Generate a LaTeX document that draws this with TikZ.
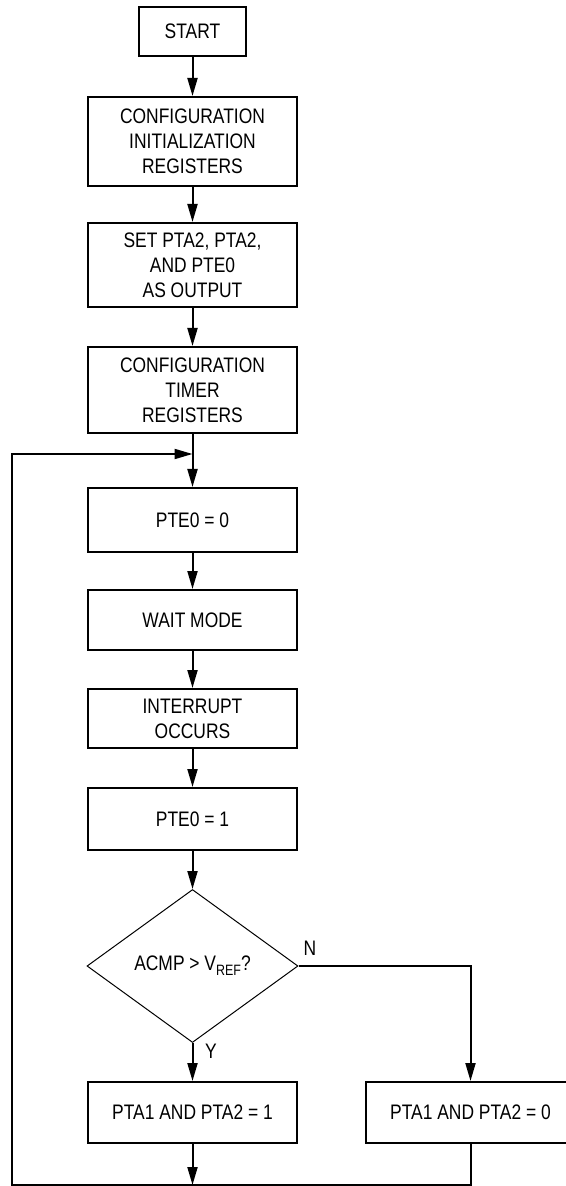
\documentclass[tikz,border=0pt]{standalone}
\usepackage{fontspec}
\setmainfont{Liberation Sans}[FakeStretch=0.83]
\usetikzlibrary{arrows.meta,shapes.geometric}
\begin{document}
\begin{tikzpicture}[x=0.5pt,y=-0.5pt,
  txt/.style={font=\fontsize{10.5}{12.5}\selectfont},
  box/.style={draw,line width=1pt,inner sep=0pt,minimum width=104.5pt,align=center,txt},
  conn/.style={line width=1pt,-{Triangle[length=9pt,width=5pt]}},
  plain/.style={line width=1pt}]
\clip (0,0) rectangle (566,1186);
\node[box,minimum width=53.5pt,minimum height=24.5pt] (start) at (192.5,31.5) {START};
\node[box,minimum height=44.5pt] (init) at (192.5,141.5) {CONFIGURATION\\INITIALIZATION\\REGISTERS};
\node[box,minimum height=42pt] (set) at (192.5,265) {SET PTA2, PTA2,\\AND PTE0\\AS OUTPUT};
\node[box,minimum height=43pt] (timer) at (192.5,390) {CONFIGURATION\\TIMER\\REGISTERS};
\node[box,minimum height=32pt] (pteA) at (192.5,520) {PTE0 = 0};
\node[box,minimum height=30pt] (wait) at (192.5,620) {WAIT MODE};
\node[box,minimum height=29.5pt] (intr) at (192.5,718.5) {INTERRUPT\\OCCURS};
\node[box,minimum height=31pt] (pteB) at (192.5,819) {PTE0 = 1};
\node[draw,diamond,line width=0.5pt,inner sep=0pt,aspect=1.38,minimum width=105.5pt,minimum height=76.5pt,txt] (dec) at (192.5,966)
  {ACMP > V\raisebox{-0.45ex}{\fontsize{7.5}{8}\selectfont REF}?};
\node[box,minimum height=30.5pt] (pta1) at (192.5,1112.5) {PTA1 AND PTA2 = 1};
\node[box,minimum height=30.5pt] (pta0) at (470.5,1112.5) {PTA1 AND PTA2 = 0};
\node[txt] (nlab) at (310,948) {N};
\node[txt] (ylab) at (211,1051) {Y};
\coordinate (join) at (192.5,454);
\coordinate (bl) at (12,1185);
\draw[conn] (start) -- (init);
\draw[conn] (init) -- (set);
\draw[conn] (set) -- (timer);
\draw[conn] (timer) -- (pteA);
\draw[conn] (pteA) -- (wait);
\draw[conn] (wait) -- (intr);
\draw[conn] (intr) -- (pteB);
\draw[conn] (pteB) -- (dec);
\draw[conn] (dec.south) -- (pta1);
\draw[conn] (dec.east) -| (pta0.north);
\draw[conn] (pta1.south) -- (pta1.south |- bl);
\draw[conn,line join=miter] (pta0.south) |- (bl) |- (join);
\end{tikzpicture}
\end{document}
